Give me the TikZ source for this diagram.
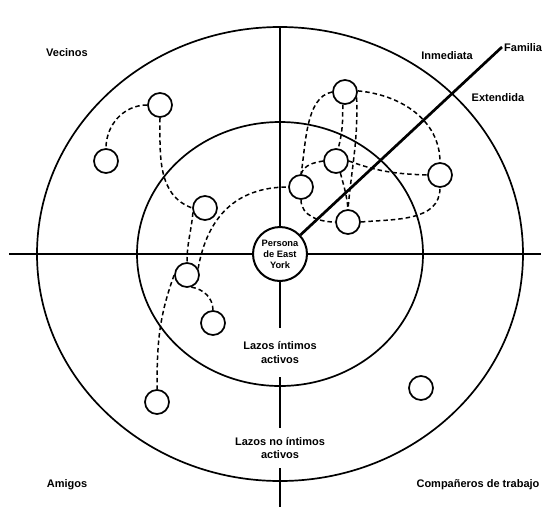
\documentclass[tikz,border=0pt]{standalone}
\usepackage{fontspec}
\setmainfont{Liberation Sans}
\begin{document}
\begin{tikzpicture}[x=1pt,y=1pt,
  axis/.style={line width=2.7pt},
  ring/.style={line width=1.7pt},
  tie/.style={line width=1.5pt, dash pattern=on 4.5pt off 3pt},
  pers/.style={circle, draw, line width=1.7pt, fill=white, minimum size=24pt, inner sep=0pt},
  ego/.style={circle, draw, line width=2pt, fill=white, minimum size=54pt, inner sep=0pt, align=center, font=\fontsize{9.3}{11}\selectfont\bfseries},
  lbl/.style={font=\fontsize{11}{13.5}\selectfont\bfseries, inner sep=0pt, align=center},
]
\useasboundingbox (0,0) rectangle (544,-507);
% rings
\draw[ring] (280,-254) ellipse [x radius=243pt, y radius=227pt];
\draw[ring] (280,-254) ellipse [x radius=143pt, y radius=132pt];
% centre and axis labels
\node[ego] (P) at (280,-254) {Persona\\de East\\York};
\node[lbl, minimum height=49pt] (L1) at (280,-352.5) {Lazos íntimos\\activos};
\node[lbl, minimum height=40pt] (L2) at (280,-448) {Lazos no íntimos\\activos};
\coordinate (hl) at (9,-254);
\coordinate (hr) at (541,-254);
\coordinate (vt) at (280,-27);
\coordinate (vb) at (280,-507);
\coordinate (fam) at (502,-47);
\draw[axis] (hl) -- (P.west);
\draw[axis] (P.east) -- (hr);
\draw[axis] (vt) -- (P.north);
\draw[axis] (P.south) -- (L1.north);
\draw[axis] (L1.south) -- (L2.north);
\draw[axis] (L2.south) -- (vb);
\draw[axis] (P) -- (fam);
% quadrant labels
\node[lbl] (vec) at (67,-53) {Vecinos};
\node[lbl] (inm) at (447,-56) {Inmediata};
\node[lbl, anchor=west] (famlbl) at (504,-48) {Familia};
\node[lbl] (ext) at (498,-98) {Extendida};
\node[lbl] (ami) at (67,-485) {Amigos};
\node[lbl] (comp) at (478,-485) {Compañeros de trabajo};
% alters
\node[pers] (A) at (160,-105) {};
\node[pers] (B) at (106,-161) {};
\node[pers] (C) at (205,-208) {};
\node[pers] (D) at (187,-275) {};
\node[pers] (E) at (213,-323) {};
\node[pers] (F) at (157,-402) {};
\node[pers] (G) at (345,-92) {};
\node[pers] (H) at (336,-161) {};
\node[pers] (I) at (301,-187) {};
\node[pers] (J) at (440,-175) {};
\node[pers] (K) at (348,-222) {};
\node[pers] (L) at (421,-388) {};
% ties, left cluster
\draw[tie] (A.west) to[out=180,in=90] (B.north);
\draw[tie] (A.south) to[out=-90,in=160] (C.west);
\draw[tie] (C.200) to[out=-95,in=90] (D.north);
\draw[tie] (D.30) to[out=80,in=180,looseness=1.1] (I.west);
\draw[tie] (D.-70) to[out=-10,in=90] (E.north);
\draw[tie] (D.180) to[out=250,in=90] (F.north);
% ties, right cluster
\draw[tie] (G.west) to[out=190,in=80,looseness=0.8] (I.north);
\draw[tie] (G.-100) to[out=-90,in=75] (H.80);
\draw[tie] (G.-25) to[out=-88,in=85] (K.north);
\draw[tie] (G.5) to[out=-5,in=90] (J.north);
\draw[tie] (H.west) to[out=190,in=70] (I.north);
\draw[tie] (H.-70) to[out=-75,in=95] (K.north);
\draw[tie] (H.east) to[out=-20,in=178] (J.west);
\draw[tie] (I.south) to[out=-90,in=180] (K.west);
\draw[tie] (K.east) to[out=5,in=-90] (J.south);
\end{tikzpicture}
\end{document}
